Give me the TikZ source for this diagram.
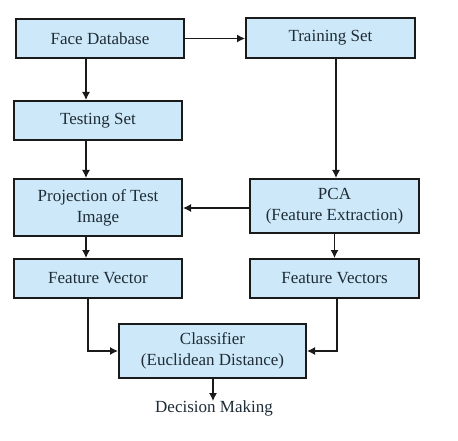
\documentclass[tikz,border=0pt]{standalone}
\usepackage{fontspec}
\setmainfont{Liberation Serif}
\usetikzlibrary{arrows.meta}
\definecolor{boxfill}{HTML}{CDE9F9}
\definecolor{boxline}{HTML}{1A1A1A}
\definecolor{txt}{HTML}{1F2C35}
\begin{document}
\begin{tikzpicture}[x=1pt,y=-1pt,
  lbl/.style={text=txt,font=\fontsize{17}{21}\selectfont},
  box/.style={lbl,draw=boxline,fill=boxfill,line width=2pt,inner sep=0pt,align=center},
  conn/.style={draw=boxline,line width=1.2pt,-{Latex[length=8pt,width=8pt]}}]
\useasboundingbox (0,0) rectangle (458,441);
\fill[white] (0,0) rectangle (458,441);
\node[box,minimum width=168pt,minimum height=39pt] (face) at (100,38.5) {Face Database};
\node[box,minimum width=169pt,minimum height=40pt] (train) at (330.5,38) {Training Set};
\node[box,minimum width=168pt,minimum height=39pt] (test) at (98,120.5) {Testing Set};
\node[box,minimum width=168pt,minimum height=57pt] (proj) at (98,207.5) {Projection of Test\\Image};
\node[box,minimum width=169pt,minimum height=54pt] (pca) at (334.5,206) {PCA\\(Feature Extraction)};
\node[box,minimum width=168pt,minimum height=39pt] (fv) at (98,278.5) {Feature Vector};
\node[box,minimum width=169pt,minimum height=39pt] (fvs) at (334.5,278.5) {Feature Vectors};
\node[box,minimum width=187pt,minimum height=54pt] (cls) at (212.5,351) {Classifier\\(Euclidean Distance)};
\begin{scope}
\clip (0,0) rectangle (458,415);
\node[lbl,anchor=north,inner sep=0pt] (dec) at (214,401) {Decision Making};
\end{scope}
\draw[conn] (face.east) -- (face.east -| train.west);
\draw[conn] ([xshift=-14pt]face.south) -- ([xshift=-14pt]face.south |- test.north);
\draw[conn] ([xshift=-12pt]test.south) -- ([xshift=-12pt]test.south |- proj.north);
\draw[conn] ([xshift=5.5pt]train.south) -- ([xshift=5.5pt]train.south |- pca.north);
\draw[conn] ([yshift=-2pt]pca.west) -- ([yshift=-2pt]pca.west -| proj.east);
\draw[conn] ([xshift=-12pt]proj.south) -- ([xshift=-12pt]proj.south |- fv.north);
\draw[conn] (pca.south) -- (pca.south |- fvs.north);
\draw[conn] ([xshift=-10pt]fv.south) |- (cls.west);
\draw[conn] ([xshift=2.5pt]fvs.south) |- (cls.east);
\draw[conn] ([xshift=0.5pt]cls.south) -- ([xshift=0.5pt]cls.south |- dec.north);
\end{tikzpicture}
\end{document}
